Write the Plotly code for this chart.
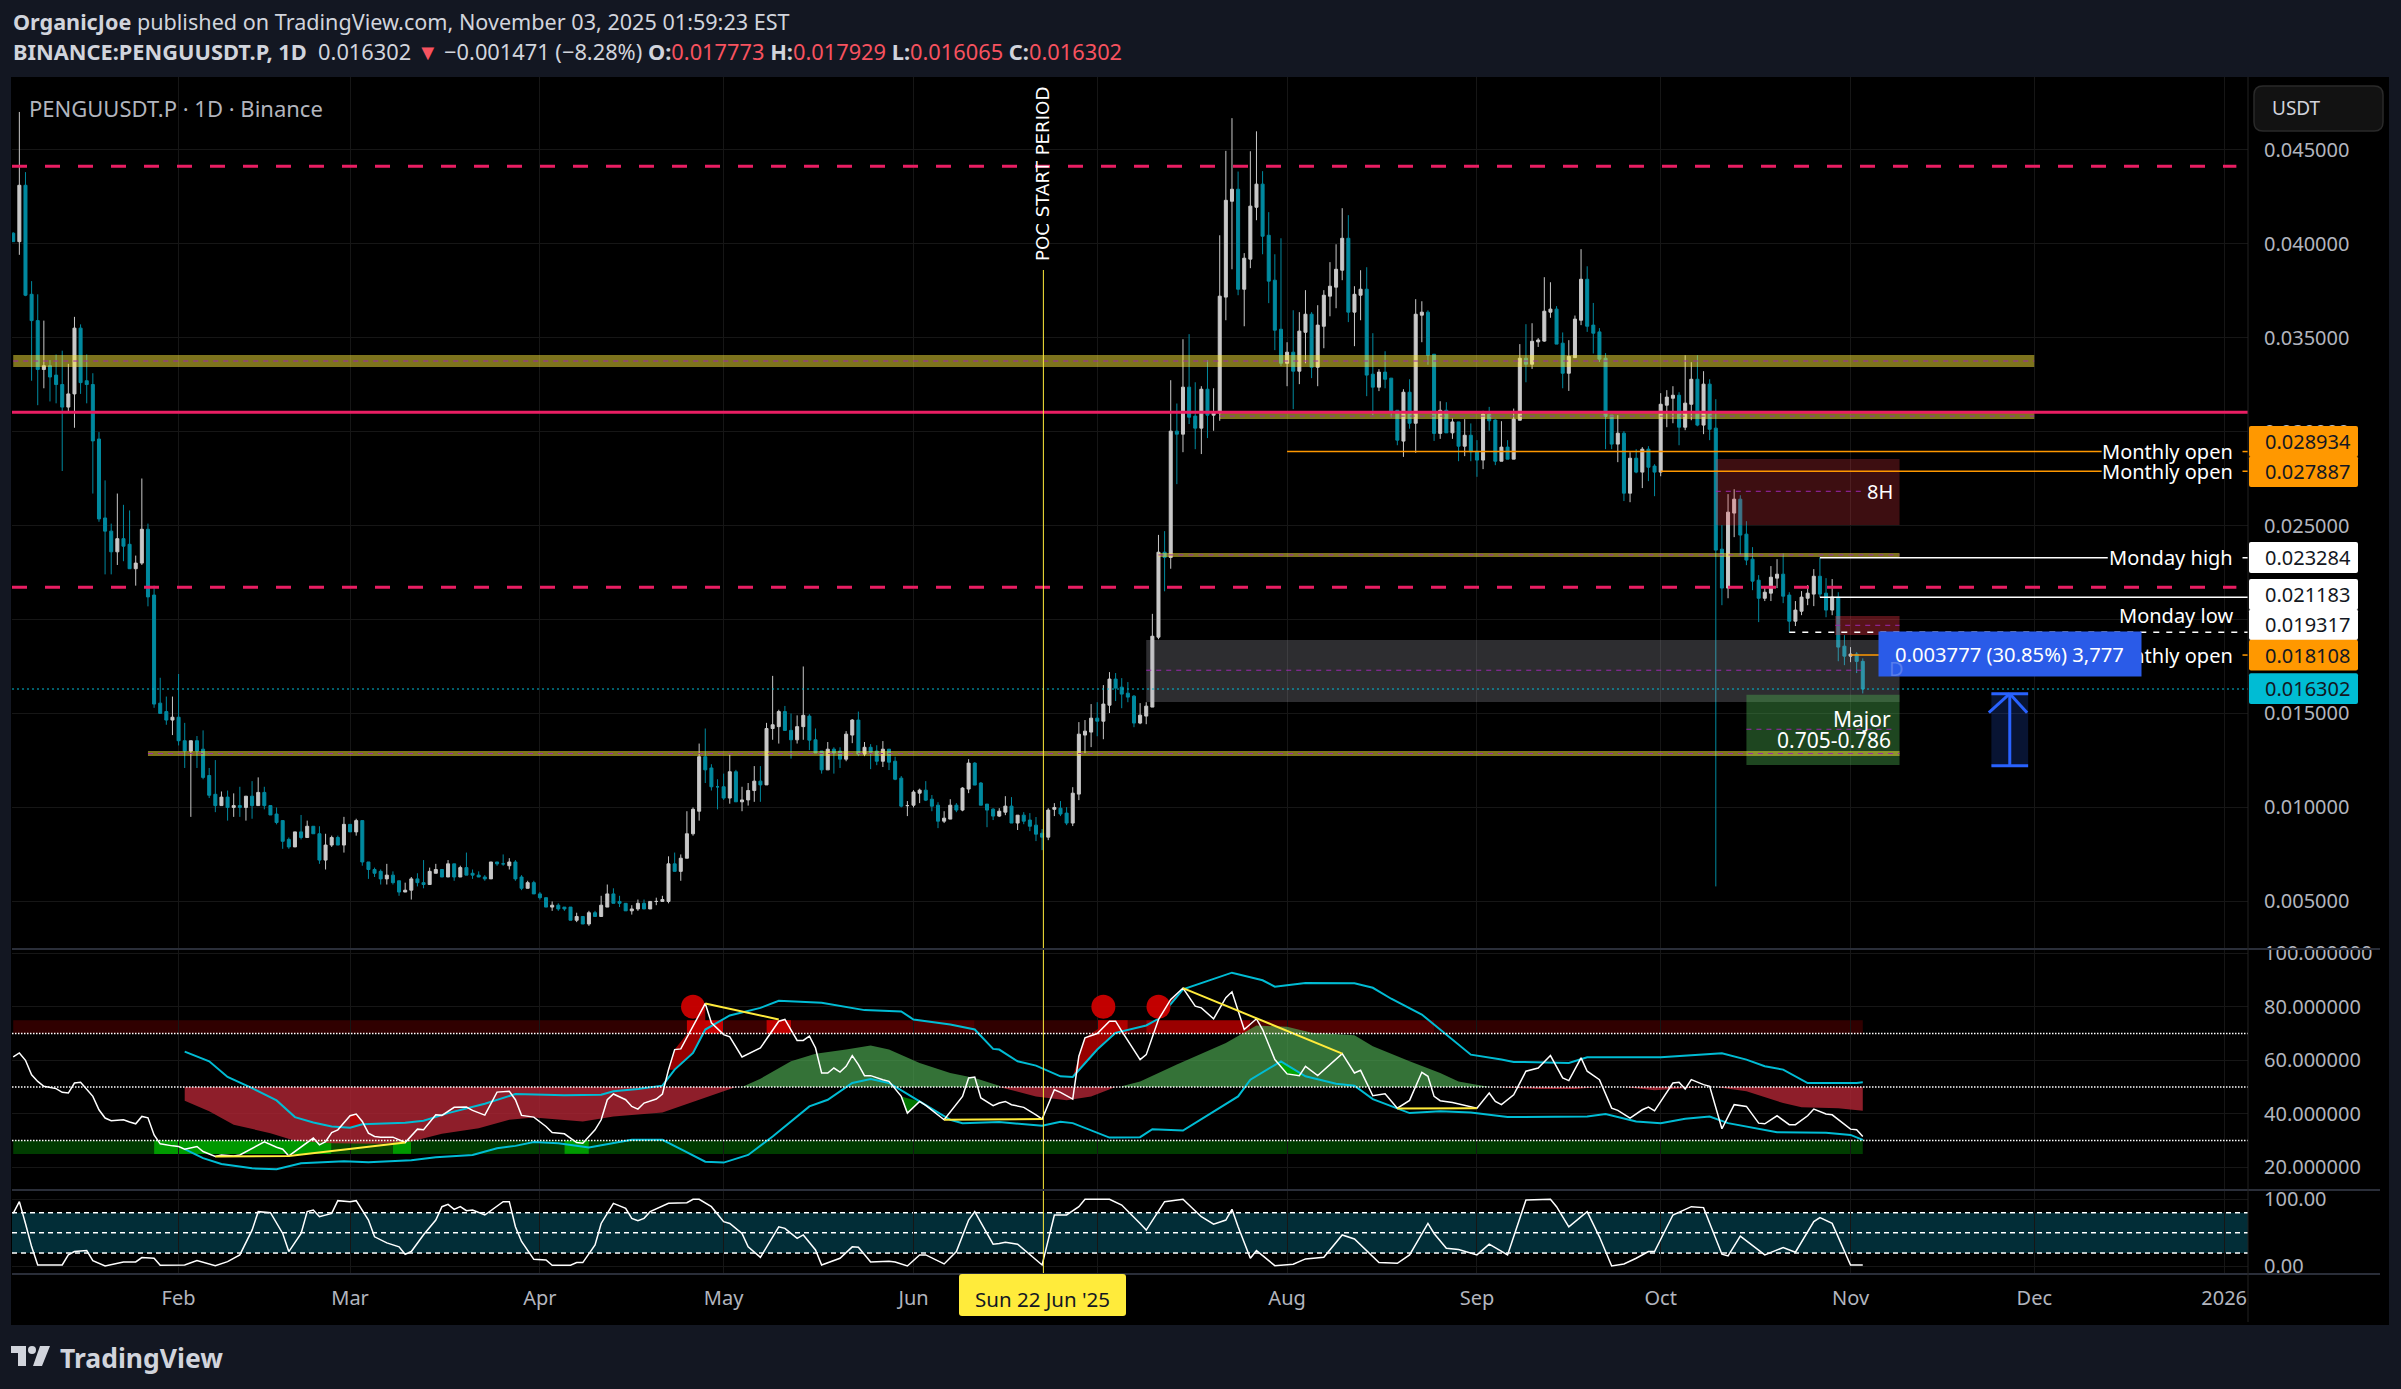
import pandas as pd
import plotly.graph_objects as go

W, H = 2401, 1389
FONT = "Noto Sans"

# daily candles, 5 Jan 2025 to 3 Nov 2025
opens = [
    .04055, .0401, .0431, .0373, .0359, .0333, .0335, .0330, .0325, .0313, .0320, .0355, .0327, .0325, .0296,
    .0254, .0247, .0236, .0243, .0240, .0227, .0230, .0248, .0213, .01555, .0151, .01465, .0148, .01355, .0130,
    .01355, .0131, .0117, .0107, .0101, .01055, .0100, .0101, .0100, .0106, .0101, .0108, .0101, .00965, .0093,
    .0083, .0079, .0087, .0084, .0090, .0086, .0072, .0080, .0084, .0080, .0091, .0087, .0093, .0071, .0067,
    .0066, .0062, .0064, .0061, .0055, .0056, .0062, .0060, .0059, .0065, .0067, .0063, .0070, .0063, .0068,
    .0065, .0064, .0063, .0062, .0071, .0070, .0069, .0071, .0063, .0057, .0060, .0054, .0052, .0047, .0048,
    .0047, .0047, .0040, .0042, .0038, .0044, .0042, .0047, .0054, .0050, .0049, .0045, .0046, .0049, .0046,
    .0050, .0050, .0050, .0070, .0066, .0073, .0086, .0098, .0127, .0121, .0111, .0111, .0105, .0119, .0103,
    .0104, .0109, .0114, .0112, .0142, .0143, .0151, .0141, .0136, .0143, .01486, .0136, .0130, .0120, .0131,
    .0130, .01257, .01385, .01465, .01284, .0132, .0130, .01246, .0131, .01246, .01156, .0101, .01012, .01076, .01092,
    .01044, .01012, .00927, .00938, .01012, .00986, .01098, .01236, .0113, .01018, .00991, .00954, .00975, .01007, .00917,
    .00959, .00933, .00906, .00863, .00842, .0099, .00996, .0097, .00917, .01071, .01385, .01401, .01475, .01459, .01544,
    .01683, .0164, .01608, .01592, .01449, .01486, .01534, .01906, .02358, .0233, .03002, .02986, .03236, .03082, .03018,
    .03225, .03087, .03098, .03715, .04225, .04289, .03757, .03917, .04193, .04316, .04044, .03805, .03544, .03363, .03422,
    .03321, .03528, .03624, .03342, .0356, .0372, .03768, .03858, .04028, .03635, .03725, .03757, .03305, .03236, .03316,
    .03284, .03113, .02949, .03209, .03044, .03619, .03635, .03411, .0299, .03113, .02993, .03051, .02922, .0298, .02895,
    .02848, .03092, .03061, .02842, .02917, .02853, .0306, .0339, .03358, .03477, .03481, .03635, .03651, .0347, .0331,
    .03393, .03592, .0381, .03566, .0353, .0339, .03087, .02933, .02991, .02672, .02858, .02784, .02906, .02816, .02784,
    .0314, .03177, .03193, .03023, .03145, .03278, .03034, .03252, .03018, .02374, .02167, .02566, .0264, .02454, .02321,
    .02209, .02113, .0214, .0222, .02241, .0213, .01991, .02044, .02113, .02135, .0223, .0214, .0205, .02119, .01858,
    .01805, .01816, .017773,
]
highs = [
    .0406, .0470, .0438, .0380, .0373, .0359, .0338, .0341, .0343, .0336, .0361, .0357, .0341, .0331, .02997,
    .0274, .0251, .0267, .0261, .0258, .0234, .0275, .0251, .0218, .0169, .0159, .0159, .0171, .0145, .01355,
    .0138, .0141, .0121, .01252, .01085, .0109, .01075, .0111, .0106, .0114, .0116, .0111, .0101, .0100, .0093,
    .0084, .0087, .0096, .0093, .0090, .0090, .0086, .0085, .0085, .0095, .0091, .0094, .0093, .0071, .0068,
    .0067, .0070, .0066, .0061, .0060, .0063, .0065, .0072, .0068, .0070, .0067, .0072, .0070, .0069, .0076,
    .0067, .0066, .0064, .0071, .0071, .0075, .0073, .0072, .0064, .0061, .0061, .0055, .0052, .0050, .0049,
    .0047, .0047, .0044, .0042, .0045, .0045, .0053, .0059, .0057, .0053, .0049, .0048, .0051, .0051, .0050,
    .0052, .0053, .0074, .0076, .0075, .0098, .0100, .0134, .0142, .0123, .0115, .0118, .0128, .0120, .0111,
    .0113, .0122, .0122, .0145, .0170, .0152, .0154, .0150, .0149, .0175, .01496, .0142, .0130, .01348, .0132,
    .0132, .01406, .0147, .0151, .01348, .01337, .01331, .01353, .0131, .0127, .01167, .01034, .01092, .0110, .0114,
    .01066, .01028, .0098, .01044, .01023, .01108, .01257, .01241, .01135, .01018, .00996, .00996, .0106, .01055, .00959,
    .00975, .0097, .00949, .00885, .00996, .01023, .01034, .01002, .01108, .01454, .01465, .0155, .0156, .01651, .0172,
    .01715, .01688, .01667, .01598, .01555, .0156, .0203, .0245, .0247, .03273, .03149, .03491, .03518, .03262, .03241,
    .0338, .0323, .04044, .04493, .04667, .04383, .03949, .04491, .04597, .04385, .04167, .03943, .04028, .03475, .03645,
    .03635, .03752, .03635, .03672, .03752, .03901, .03996, .04188, .04151, .03773, .03858, .03874, .03523, .03332, .03427,
    .03284, .03113, .03225, .03278, .03704, .03693, .03645, .03411, .03161, .03156, .03069, .03051, .03066, .03043, .02954,
    .0311, .03131, .03066, .03055, .02954, .03122, .03465, .03571, .03576, .03497, .03821, .03794, .03667, .03527, .03486,
    .03617, .0397, .03879, .03684, .0355, .03417, .03087, .03087, .03002, .0289, .02906, .02917, .02922, .02826, .03204,
    .0322, .03241, .03209, .03406, .03369, .03406, .03321, .03278, .03172, .02502, .02667, .02693, .02661, .02523, .02385,
    .02236, .02172, .02284, .02321, .02351, .02145, .02098, .02151, .02183, .02268, .0233, .0222, .02215, .02145, .01917,
    .01853, .01826, .017929,
]
lows = [
    .0401, .0394, .0372, .0327, .0314, .0323, .0316, .0315, .0279, .0310, .0302, .0320, .0315, .0267, .0252,
    .0224, .0224, .0229, .0231, .0227, .0218, .0229, .0207, .0153, .0150, .0144, .01385, .0133, .0121, .0095,
    .0121, .0115, .0105, .00975, .0101, .0093, .0095, .0095, .0093, .0094, .0101, .0099, .0096, .0091, .0078,
    .0078, .0079, .0083, .0084, .0086, .0070, .0067, .0079, .0080, .0076, .0087, .0085, .0069, .0062, .0063,
    .0059, .0059, .0059, .0053, .0055, .0051, .0058, .0057, .0059, .0065, .0063, .0063, .0061, .0063, .0064,
    .0062, .0063, .0061, .0062, .0069, .0069, .0067, .0061, .0056, .0057, .0054, .0051, .0047, .0045, .0045,
    .0045, .0040, .0039, .0038, .0037, .0042, .0042, .0047, .0049, .0047, .0045, .0043, .0045, .0046, .0046,
    .0048, .0050, .0049, .0066, .0061, .0073, .0085, .0093, .0113, .0109, .0099, .0104, .0102, .0103, .0098,
    .0101, .0103, .0103, .0112, .0136, .0134, .0141, .0126, .0134, .0136, .01305, .0129, .0118, .0120, .0118,
    .0121, .01246, .01342, .01273, .01273, .01204, .01225, .01215, .01199, .01145, .0100, .00954, .0100, .01023, .01034,
    .0098, .0089, .00917, .00938, .00975, .0098, .01076, .01119, .01012, .00895, .00933, .00949, .00959, .00917, .0088,
    .00911, .00874, .00821, .00773, .00826, .00954, .00954, .00906, .00901, .01039, .01289, .01321, .01379, .01363, .01502,
    .01566, .01528, .0156, .01427, .01443, .01443, .01534, .01895, .0215, .0227, .0272, .0289, .0304, .02906, .0288,
    .02965, .03004, .03057, .03592, .03863, .03725, .0356, .03869, .04124, .03943, .03683, .03433, .03348, .03241, .03119,
    .03252, .03363, .03284, .03241, .03443, .03613, .03656, .03805, .03582, .03454, .03592, .03188, .03087, .03215, .0323,
    .03075, .02927, .02865, .03015, .02887, .03475, .03355, .0295, .02961, .02993, .02961, .02842, .02869, .02842, .02759,
    .028, .03004, .02821, .02842, .02853, .02853, .0306, .03262, .03333, .0345, .03477, .03605, .03465, .0323, .03216,
    .03393, .03566, .0353, .03415, .0337, .02906, .02906, .02837, .0263, .02624, .02778, .02699, .02736, .02656, .02762,
    .03023, .03044, .02927, .03007, .0306, .03028, .02986, .02954, .0058, .02076, .02113, .02438, .02342, .02289, .02156,
    .01986, .02098, .02098, .02167, .02087, .01931, .01965, .02023, .02076, .02071, .02119, .02012, .02023, .01778, .01757,
    .01773, .01715, .016065,
]
closes = [
    .0401, .0431, .03725, .0359, .0333, .0335, .0329, .0325, .0313, .0320, .0355, .0326, .0325, .0295, .02535,
    .0247, .0236, .0243, .0239, .0227, .0230, .0248, .0212, .0155, .0150, .01465, .0148, .01355, .0130, .01355,
    .0130, .0116, .01065, .0101, .01055, .0100, .0101, .0100, .0106, .0101, .0108, .0101, .0096, .0092, .0082,
    .0079, .0087, .0084, .0090, .0086, .0072, .0080, .0084, .0080, .0091, .0087, .0093, .0071, .0067, .0065,
    .0062, .0064, .0060, .0055, .0056, .0062, .0060, .0059, .0066, .0067, .0063, .0070, .0063, .0068, .0064,
    .0064, .0063, .0062, .0071, .0070, .0070, .0071, .0062, .0057, .0060, .0054, .0052, .0047, .0048, .0046,
    .0046, .0040, .0042, .0038, .0044, .0042, .0048, .0054, .0049, .0049, .0045, .0046, .0049, .0046, .0050,
    .0050, .0051, .0070, .0066, .0073, .0086, .0099, .0127, .0120, .0111, .0111, .0105, .0119, .0103, .0104,
    .0109, .0114, .0112, .0142, .0144, .0151, .0141, .0136, .0143, .0149, .01358, .0129, .0120, .0131, .0129,
    .01257, .0139, .01465, .01284, .0132, .01294, .01246, .0131, .01241, .0115, .01007, .0101, .01082, .01092, .01039,
    .01007, .00927, .00943, .01012, .00986, .01103, .01236, .01119, .01012, .00986, .00954, .0098, .01007, .00917, .00959,
    .00927, .009, .00858, .00842, .00986, .01, .00965, .00917, .01076, .0139, .01406, .01475, .01459, .0155, .01683,
    .01635, .01603, .01587, .01449, .01491, .01539, .01911, .02358, .0233, .03002, .02986, .03236, .03076, .03018, .03225,
    .03087, .03103, .0372, .0423, .04289, .03757, .03922, .04199, .04316, .04039, .038, .03539, .03363, .03422, .03321,
    .03534, .03624, .03342, .03566, .03725, .03773, .03863, .04028, .03635, .0373, .03757, .033, .03236, .03316, .03278,
    .03108, .02954, .03209, .03044, .03624, .03635, .03406, .0299, .03113, .02993, .03051, .02922, .0298, .02892, .02848,
    .03092, .03057, .02842, .02917, .02853, .03066, .0339, .03358, .0348, .03487, .0364, .03651, .03465, .0331, .034,
    .03598, .0381, .0356, .03523, .03385, .0308, .02933, .02991, .02672, .02858, .02784, .02906, .0281, .02784, .03145,
    .03183, .03193, .03023, .03151, .03278, .03034, .03252, .03012, .02369, .02167, .02571, .0264, .02449, .02316, .02204,
    .02113, .02145, .02225, .02241, .02124, .01991, .0205, .02119, .0214, .0223, .02135, .0205, .02119, .01853, .01805,
    .01816, .01777, .016302,
]

price_ticks = [.005, .01, .015, .02, .025, .03, .035, .04, .045]
price_tick_labels = ["0.005000", "0.010000", "0.015000", "", "0.025000", "0.030000", "0.035000", "0.040000", "0.045000"]
month_ticks = ["2025-02-01", "2025-03-01", "2025-04-01", "2025-05-01", "2025-06-01", "2025-07-01",
               "2025-08-01", "2025-09-01", "2025-10-01", "2025-11-01", "2025-12-01", "2026-01-01"]
month_labels = ["Feb", "Mar", "Apr", "May", "Jun", "", "Aug", "Sep", "Oct", "Nov", "Dec", "2026"]

# RSI pane, x values are days counted from 1 Feb 2025
rsi_days = [-27, -26, -25, -24, -23, -22, -20, -19, -18, -17, -16, -15, -14, -13, -12, -11, -9, -8, -7, -6, -5, -4, -3, -1, 0, 1, 3, 4, 6, 7, 9, 10, 12, 14, 16, 17, 18, 20, 22, 23, 24, 25, 26, 28, 29, 30, 31, 32, 33, 35, 36, 37, 39, 40, 42, 43, 45, 47, 48, 50, 52, 54, 55, 56, 58, 60, 61, 63, 65, 66, 68, 69, 70, 71, 73, 74, 75, 76, 78, 79, 80, 81, 82, 84, 86, 87, 89, 90, 91, 92, 95, 97, 98, 99, 101, 102, 103, 104, 105, 106, 107, 108, 109, 110, 111, 112, 113, 115, 116, 118, 119, 121, 122, 125, 128, 129, 130, 131, 133,
            134, 135, 136, 138, 140, 141, 143, 144, 146, 147, 148, 150, 152, 153, 154, 156, 157, 158, 160, 162, 164, 166, 167, 169, 171, 172, 174, 176, 177, 179, 181, 183, 184, 186, 188, 190, 192, 193, 195, 197, 199, 201, 203, 204, 205, 206, 208, 211, 212, 214, 215, 216, 218, 220, 222, 224, 226, 227, 229, 230, 232, 234, 235, 237, 239, 240, 241, 244, 245, 246, 247, 249, 250, 252, 254, 256, 258, 259, 261, 263, 264, 266, 267, 269, 270, 273, 274, 275]
rsi_vals = [61.25, 62.75, 60, 54.6, 52.1, 50.25, 49.4, 48, 47.75, 51.5, 51.75, 49, 46.5, 41.5, 38.4, 37.4, 37.75, 36.9, 36.25, 39, 38.5, 32.1, 28.75, 28, 27.75, 26.75, 27.75, 25.9, 24, 24.6, 24.25, 24.6, 27.1, 29.5, 27.5, 26.75, 24.25, 27.5, 30.9, 28.4, 29.6, 33, 34, 39.25, 39.9, 37.1, 32.75, 31.5, 31.25, 31.25, 30.25, 29.25, 34.25, 34, 39.6, 39.4, 42.4, 42.5, 41.25, 39.5, 48.1, 48.4, 45.25, 39.4, 38.75, 35.25, 33, 32.5, 29.25, 29, 34, 37.75, 45.25, 47.4, 45.25, 42.75, 41.75, 44, 45.5, 47.4, 56.5, 64, 64.25, 72.75, 81.25, 74, 69.6, 68.75, 65.25, 61.25, 64.6, 71.5, 74.6, 75.25, 67.4, 67.4, 69, 64.6, 55.25, 55.25, 57.1, 55.6, 57.75, 61.75, 58.4, 54.25, 54.25, 52.75, 52.1, 46.5, 40.25, 44.6, 43.1, 37.75, 46.5, 53.4, 53.75, 45.9, 43,
            44, 44.6, 43.4, 42.4, 39.6, 38, 49, 48, 45.5, 61.5, 68.4, 70, 74.6, 74.6, 70.9, 64, 60.25, 62.1, 75.25, 82.75, 87, 80.25, 79.6, 75.5, 83.4, 85.6, 71.5, 75.5, 71.5, 60.25, 54.9, 54.25, 57.75, 54.25, 58.4, 62.5, 55.25, 56.25, 46.75, 47.5, 42.1, 45, 55.5, 54, 46.5, 44.9, 44.25, 42.75, 42.1, 47.75, 44.6, 43.4, 47.1, 55.9, 57.1, 61.75, 53.4, 52.4, 60.9, 55.9, 52.75, 42.1, 41.25, 38.4, 41.5, 42.5, 41.1, 51.5, 51.75, 49.25, 52.75, 50.9, 50.25, 34.4, 43.4, 42.75, 36.5, 36.25, 39.25, 35.9, 35.9, 39.25, 41.75, 39.9, 39.6, 34.25, 34, 31.5]

upper_days = [1, 5, 8, 12, 16, 19, 22, 25, 28, 30, 37, 40, 44, 50, 55, 63, 69, 71, 75, 79, 81, 84, 86, 90, 95, 98, 105, 112, 118, 120, 126, 130, 133,
              134, 137, 140, 144, 146, 150, 153, 158, 160, 164, 168, 172, 177, 179, 184, 192, 195, 198, 203, 207, 211, 216, 218, 227, 230, 242, 252, 256, 259, 262, 266, 274, 275]
upper_vals = [63.25, 59.6, 53.75, 49.6, 45, 38.75, 36.75, 35.25, 34.75, 36.1, 36.6, 37.4, 40.25, 43.75, 47.4, 46.9, 47.1, 48.4, 49.25, 50.5, 56.5, 62.75, 71.5, 76.75, 79.6, 82.25, 81.5, 78.75, 78.25, 75.25, 73.4, 71.5, 64.25,
              64, 59.6, 58, 54, 53.75, 64, 70.25, 73, 75.5, 86.5, 89.6, 92.75, 89.9, 87.5, 88.9, 88.75, 87.1, 83, 77.1, 69.6, 62.1, 60.25, 59.4, 59, 61.1, 61.1, 62.6, 60.25, 57.75, 56.5, 51.5, 51.5, 51.75]
lower_days = [1, 4, 7, 12, 16, 20, 27, 31, 38, 42, 48, 52, 55, 58, 62, 67, 74, 79, 82, 86, 89, 93, 97, 103, 106, 110, 113, 116, 121, 126, 128, 134,
              141, 144, 146, 152, 157, 159, 164, 170, 173, 175, 180, 184, 189, 192, 195, 201, 206, 211, 217, 230, 233, 238, 242, 246, 250, 253, 261, 269, 273, 275]
lower_vals = [26.75, 23.4, 21.25, 19.6, 19.25, 21.5, 22.25, 21.9, 22.6, 23.75, 24.6, 27.1, 28, 29.4, 29, 27.4, 30.25, 30.25, 26.75, 22.1, 21.75, 24.6, 31.5, 42.75, 45.25, 51.5, 53, 51.5, 44.6, 37.75, 36.5, 36.9,
              35.5, 37, 36.5, 31.1, 31.25, 34.25, 33.75, 42.1, 46.5, 52.75, 59.6, 54, 51.25, 50.5, 45.5, 40.25, 40.9, 40.5, 38.75, 39, 39.9, 37.1, 36.5, 38.1, 39, 36.5, 33.1, 32.9, 32.1, 30.25]

# oscillator lobes around the 50 line
red_lobes = [
    ([1, 5, 9, 15, 19, 25, 33, 38, 43, 49, 54, 58, 66, 71, 79, 86, 91],
     [44.9, 40.9, 35.9, 32.75, 29.9, 29, 28.75, 29.6, 32.5, 34.6, 37.75, 38.6, 37.1, 39, 40.5, 45.9, 50]),
    ([134, 140, 145, 149, 153], [50, 46.5, 45.1, 46.5, 50]),
    ([215, 222, 228, 232], [50, 49.25, 49.25, 50]),
    ([236, 241, 249], [50, 48.75, 50]),
    ([251, 256, 262, 265, 271, 275], [50, 48.4, 44, 42.4, 42.1, 41.1]),
]
green_lobes = [
    ([92, 95, 100, 104, 109, 113, 116, 121, 126, 130, 134], [50, 53.1, 59.6, 62.4, 64, 65.5, 64, 59, 55.25, 53.4, 50.5]),
    ([154, 157, 163, 171, 176, 181, 185, 192, 195, 201, 206, 209, 214], [50.25, 52.1, 58.4, 66.5, 73, 72.5, 70.25, 69.4, 65.25, 59.6, 55.25, 52.1, 50]),
]
# small wedges where the RSI leaves its bands
wedges = [
    ([80, 81, 84, 86, 86, 84, 81], [56.5, 64, 72.75, 81.25, 71.5, 62.75, 56.5], "rgba(190,0,0,0.8)"),
    ([146, 148, 152, 154, 153, 150], [53.75, 68.4, 74.6, 70.9, 70.25, 64], "rgba(190,0,0,0.8)"),
    ([160, 162, 164, 164], [75.5, 82.75, 87, 86.5], "rgba(190,0,0,0.8)"),
    ([28, 29, 30, 28], [39.25, 39.9, 36.1, 34.75], "rgba(190,0,0,0.8)"),
    ([118, 119, 121], [46.5, 40.25, 44.6], "rgba(0,130,0,0.9)"),
    ([179, 181, 183, 184], [60.25, 54.9, 54.25, 54], "rgba(0,170,0,0.9)"),
]

div_days = [6, 18, 37, None, 86, 98, None, 125, 141, None, 164, 190, None, 199, 212]
div_vals = [24, 24.25, 29.25, None, 81.25, 75.25, None, 37.75, 38, None, 87, 62.5, None, 42, 42.1]

signal_days = [84, 151, 160]
signal_vals = [80, 80, 80]

stoch_days = [-27, -26, -25, -24, -23, -19, -18, -17, -15, -14, -12, -9, -7, -6, -4, -3, 1, 3, 6, 8, 10, 12, 13, 15, 17, 18, 20, 21, 22, 23, 25, 26, 28, 29, 31, 32, 34, 36, 37, 38, 40, 42, 43, 44, 45, 46, 47, 48, 50, 53, 54, 55, 56, 58, 60, 61, 64, 65, 66, 68, 69, 71, 73, 74, 75, 76, 77, 80, 83, 84, 85, 87, 89, 90, 92, 93, 95, 98, 99, 101, 102, 104, 105, 108, 110, 111, 113, 116, 117, 119, 121, 122, 125, 127, 129, 130, 132, 133,
              134, 135, 137, 139, 141, 143, 145, 147, 148, 152, 154, 157, 158, 161, 164, 167, 169, 171, 172, 173, 175, 176, 179, 182, 184, 187, 190, 192, 196, 199, 201, 204, 205, 207, 209, 212, 214, 217, 220, 224, 225, 227, 230, 232, 234, 236, 238, 240, 241, 244, 247, 249, 252, 253, 255, 259, 262, 264, 267, 268, 270, 273, 275]
stoch_vals = [79, 96.5, 64, 29.4, 2, 2, 17, 22, 23.4, 8.5, 0.5, 6.5, 6.5, 13, 12, 1.5, 2, 8.5, 1, 7, 17, 54, 81.6, 80, 49, 22, 49, 81.6, 84, 74, 79, 98, 96.5, 98, 69, 44, 35, 29, 18, 22, 47, 69, 89, 92.5, 85, 89, 83, 84, 76.6, 96.5, 96.5, 59, 37, 10.4, 9.5, 1.5, 1.5, 5.5, 5.5, 32, 64, 94, 86.6, 71.6, 68, 71.6, 81.6, 94, 95, 100, 100, 89, 66.7, 64, 49, 29, 13.4, 59, 56.7, 41.8, 46.8, 24.4, 2, 12, 29, 28.4, 6.5, 7.5, 6.5, 0.5, 17, 17, 3.5, 22, 69, 81.6, 49, 33,
              34, 36, 33, 17, 2, 76.6, 76.6, 89, 100, 100, 91.5, 64, 54, 96.5, 100, 74, 63, 69, 85, 59, 12, 23.4, 1, 3, 11, 13.4, 46.8, 40.8, 5.5, 4.5, 17, 64, 49, 27, 25, 17, 33, 17, 99, 100, 89, 59, 81.6, 44, 0.5, 3.5, 12, 22, 22, 76.6, 89, 87.6, 18, 15.4, 45, 17, 28, 21, 66.7, 72.6, 64, 2, 2]

# drawn levels on the price pane
olive_bands = [
    ("2025-01-05", "2025-12-01", .03343, .03407),
    ("2025-01-27", "2025-11-09", .01274, .01300),
    ("2025-07-21", "2025-12-01", .03066, .03098),
    ("2025-07-11", "2025-11-09", .02333, .02354),
]
zones = [
    ("2025-10-10", "2025-11-09", .02502, .02854, "rgba(242,54,69,0.25)"),
    ("2025-10-29 12:00", "2025-11-09", .01918, .02019, "rgba(242,54,69,0.36)"),
    ("2025-07-09", "2025-11-09", .01561, .01891, "rgba(178,181,190,0.25)"),
    ("2025-10-15", "2025-11-09", .01226, .01599, "rgba(76,175,80,0.40)"),
]
zone_mids = [
    ("2025-10-10", "2025-11-03", .02682),
    ("2025-10-29 12:00", "2025-11-09", .01969),
    ("2025-07-09", "2025-11-03", .01730),
    ("2025-10-15", "2025-11-08", .01416),
]
price_lines = [
    ("2025-08-01", "2025-12-12", .028934, "#FF9800", "solid"),
    ("2025-10-01", "2025-12-12", .027887, "#FF9800", "solid"),
    ("2025-11-01", "2025-12-10", .018108, "#FF9800", "solid"),
    ("2025-10-27", "2025-12-13", .023284, "#FFFFFF", "solid"),
    ("2025-10-27", "2026-01-05", .021183, "#FFFFFF", "solid"),
    ("2025-10-22", "2026-01-05", .019317, "#FFFFFF", "6px,7px"),
]
label_stubs = [.028934, .027887, .023284, .018108]
label_stub_colors = ["#FF9800", "#FF9800", "#FFFFFF", "#FF9800"]
pink_dashed = [.04411, .02171]
pink_solid = .03102
last_price = .016302

red_band = [
    ("2025-01-05", "2025-04-25", "#300000"), ("2025-04-25", "2025-05-01", "#C80000"),
    ("2025-05-01", "2025-05-08", "#3C0000"), ("2025-05-08", "2025-05-12", "#C00000"),
    ("2025-05-12", "2025-06-11", "#4D0000"), ("2025-06-11", "2025-07-01", "#300000"),
    ("2025-07-01", "2025-07-06", "#B00000"), ("2025-07-06", "2025-07-09", "#5A0000"),
    ("2025-07-09", "2025-07-26", "#9A0000"), ("2025-07-26", "2025-08-25", "#4F0000"),
    ("2025-08-25", "2025-11-03", "#300000"),
]
green_band = [
    ("2025-01-05", "2025-01-28", "#003C00"), ("2025-01-28", "2025-02-26", "#009900"),
    ("2025-02-26", "2025-03-08", "#0A4A00"), ("2025-03-08", "2025-03-11", "#009900"),
    ("2025-03-11", "2025-04-05", "#003C00"), ("2025-04-05", "2025-04-09", "#009900"),
    ("2025-04-09", "2025-11-03", "#003C00"),
]
rsi_levels = [70, 50, 30]
stoch_levels = [80, 50, 20]

# axis price tags: value text, fill, centre row
axis_tags = [
    ("0.028934", "#FF9800", 441.5), ("0.027887", "#FF9800", 471.7), ("0.023284", "#FFFFFF", 557.5),
    ("0.021183", "#FFFFFF", 594.5), ("0.019317", "#FFFFFF", 624.7), ("0.018108", "#FF9800", 655.2),
    ("0.016302", "#00BCD4", 688.7),
]
axis_notes = [("Monthly open", 451.3), ("Monthly open", 471.7), ("Monday high", 557.3), ("Monday low", 615), ("Monthly open", 655.2)]


def days(vals):
    base = pd.Timestamp("2025-02-01")
    return [None if v is None else (base + pd.Timedelta(days=v)).strftime("%Y-%m-%d") for v in vals]


def px(x):
    return x / W


def py(y):
    return 1 - y / H


def rounded(x0, y0, x1, y1, r, fill, line="rgba(0,0,0,0)", layer="above"):
    p = (f"M {px(x0 + r)} {py(y0)} L {px(x1 - r)} {py(y0)} Q {px(x1)} {py(y0)} {px(x1)} {py(y0 + r)} "
         f"L {px(x1)} {py(y1 - r)} Q {px(x1)} {py(y1)} {px(x1 - r)} {py(y1)} "
         f"L {px(x0 + r)} {py(y1)} Q {px(x0)} {py(y1)} {px(x0)} {py(y1 - r)} "
         f"L {px(x0)} {py(y0 + r)} Q {px(x0)} {py(y0)} {px(x0 + r)} {py(y0)} Z")
    return dict(type="path", xref="paper", yref="paper", path=p, fillcolor=fill,
                line=dict(color=line, width=1.5), layer=layer)


def txt(x, y, text, size=20, color="#FFFFFF", anchor="left", family=FONT, angle=0):
    return dict(x=px(x), y=py(y), xref="paper", yref="paper", text=text, showarrow=False, xanchor=anchor,
                yanchor="middle", align=anchor if anchor != "center" else "center", textangle=angle,
                font=dict(family=family, size=size, color=color))


dates = pd.date_range(end="2025-11-03", periods=len(opens)).strftime("%Y-%m-%d").tolist()
x_left = (pd.Timestamp("2025-02-01") + pd.Timedelta(days=-27.2)).strftime("%Y-%m-%d %H:%M")
x_right = (pd.Timestamp("2025-02-01") + pd.Timedelta(days=337.9)).strftime("%Y-%m-%d %H:%M")

fig = go.Figure()

fig.add_trace(go.Candlestick(
    x=dates, open=opens, high=highs, low=lows, close=closes, xaxis="x", yaxis="y", hoverinfo="skip",
    increasing=dict(line=dict(color="#C8C8C8", width=1), fillcolor="#C8C8C8"),
    decreasing=dict(line=dict(color="#00899F", width=1), fillcolor="#00899F"),
    showlegend=False))

# RSI pane
for d, v in red_lobes:
    xs = days(d)
    fig.add_trace(go.Scatter(x=xs + xs[::-1], y=v + [50] * len(v), xaxis="x", yaxis="y2", mode="lines", fill="toself",
                             fillcolor="rgba(178,38,52,0.8)", line=dict(width=0), hoverinfo="skip", showlegend=False))
for d, v in green_lobes:
    xs = days(d)
    fig.add_trace(go.Scatter(x=xs + xs[::-1], y=v + [50] * len(v), xaxis="x", yaxis="y2", mode="lines", fill="toself",
                             fillcolor="rgba(80,175,85,0.65)", line=dict(width=0), hoverinfo="skip", showlegend=False))
for d, v, c in wedges:
    fig.add_trace(go.Scatter(x=days(d), y=v, xaxis="x", yaxis="y2", mode="lines", fill="toself",
                             fillcolor=c, line=dict(width=0), hoverinfo="skip", showlegend=False))
fig.add_trace(go.Scatter(x=days(upper_days), y=upper_vals, xaxis="x", yaxis="y2", mode="lines",
                         line=dict(color="#00BCD4", width=2), hoverinfo="skip", showlegend=False))
fig.add_trace(go.Scatter(x=days(lower_days), y=lower_vals, xaxis="x", yaxis="y2", mode="lines",
                         line=dict(color="#00BCD4", width=2), hoverinfo="skip", showlegend=False))
fig.add_trace(go.Scatter(x=days(signal_days), y=signal_vals, xaxis="x", yaxis="y2", mode="markers",
                         marker=dict(color="#CC0000", size=24, opacity=0.95), hoverinfo="skip", showlegend=False))
fig.add_trace(go.Scatter(x=days(rsi_days), y=rsi_vals, xaxis="x", yaxis="y2", mode="lines",
                         line=dict(color="#FFFFFF", width=1.5), hoverinfo="skip", showlegend=False))
fig.add_trace(go.Scatter(x=days(div_days), y=div_vals, xaxis="x", yaxis="y2", mode="lines", connectgaps=False,
                         line=dict(color="#FFEB3B", width=2), hoverinfo="skip", showlegend=False))

# stoch pane
fig.add_trace(go.Scatter(x=days(stoch_days), y=stoch_vals, xaxis="x", yaxis="y3", mode="lines",
                         line=dict(color="#FFFFFF", width=1.5), hoverinfo="skip", showlegend=False))

shapes = []
# chart background, the page around it is slate
shapes.append(dict(type="rect", xref="paper", yref="paper", x0=px(11), x1=px(2389), y0=py(77), y1=py(1325),
                   fillcolor="#000000", line=dict(width=0), layer="below"))

for x0, x1, lo, hi, col in zones:
    shapes.append(dict(type="rect", xref="x", yref="y", x0=x0, x1=x1, y0=lo, y1=hi, fillcolor=col,
                       line=dict(width=0), layer="above"))
for x0, x1, y in zone_mids:
    shapes.append(dict(type="line", xref="x", yref="y", x0=x0, x1=x1, y0=y, y1=y,
                       line=dict(color="#9C27B0", width=1, dash="5px,5px"), layer="above"))
for x0, x1, lo, hi in olive_bands:
    shapes.append(dict(type="rect", xref="x", yref="y", x0=x0, x1=x1, y0=lo, y1=hi,
                       fillcolor="rgba(255,235,59,0.49)", line=dict(width=0), layer="above"))
    shapes.append(dict(type="line", xref="x", yref="y", x0=x0, x1=x1, y0=(lo + hi) / 2, y1=(lo + hi) / 2,
                       line=dict(color="#9C27B0", width=1, dash="5px,5px"), layer="above"))
for x0, x1, y, col, dash in price_lines:
    shapes.append(dict(type="line", xref="x", yref="y", x0=x0, x1=x1, y0=y, y1=y,
                       line=dict(color=col, width=1.5, dash=dash), layer="above"))
for y, col in zip(label_stubs, label_stub_colors):
    shapes.append(dict(type="line", xref="x", yref="y", x0="2026-01-04", x1=x_right, y0=y, y1=y,
                       line=dict(color=col, width=1.5), layer="above"))
for y in pink_dashed:
    shapes.append(dict(type="line", xref="x", yref="y", x0=x_left, x1="2026-01-03", y0=y, y1=y,
                       line=dict(color="#E91E63", width=3, dash="15px,18px"), layer="above"))
shapes.append(dict(type="line", xref="x", yref="y", x0=x_left, x1=x_right, y0=pink_solid, y1=pink_solid,
                   line=dict(color="#E91E63", width=3), layer="above"))
shapes.append(dict(type="line", xref="x", yref="y", x0=x_left, x1=x_right, y0=last_price, y1=last_price,
                   line=dict(color="#00BCD4", width=1, dash="2px,3px"), layer="above"))

# long position style arrow
shapes.append(dict(type="rect", xref="x", yref="y", x0="2025-11-24", x1="2025-11-30", y0=.01222, y1=.01605,
                   fillcolor="rgba(41,98,255,0.2)", line=dict(width=0), layer="above"))
for x0, x1, y0, y1 in [("2025-11-27", "2025-11-27", .01222, .01605), ("2025-11-24", "2025-11-30", .01222, .01222),
                       ("2025-11-24", "2025-11-30", .01605, .01605), ("2025-11-27", "2025-11-23 14:00", .01605, .01504),
                       ("2025-11-27", "2025-11-29 20:00", .01605, .01504)]:
    shapes.append(dict(type="line", xref="x", yref="y", x0=x0, x1=x1, y0=y0, y1=y1,
                       line=dict(color="#2962FF", width=3), layer="above"))

# pane 2 and 3 furniture
for x0, x1, col in red_band:
    shapes.append(dict(type="rect", xref="x", yref="y2", x0=x0, x1=x1, y0=70, y1=75, fillcolor=col,
                       line=dict(width=0), layer="below"))
for x0, x1, col in green_band:
    shapes.append(dict(type="rect", xref="x", yref="y2", x0=x0, x1=x1, y0=25, y1=30, fillcolor=col,
                       line=dict(width=0), layer="below"))
for y in rsi_levels:
    shapes.append(dict(type="line", xref="x", yref="y2", x0=x_left, x1=x_right, y0=y, y1=y,
                       line=dict(color="#FFFFFF", width=1.5, dash="1.5px,1.5px"), layer="above"))
shapes.append(dict(type="rect", xref="x", yref="y3", x0=x_left, x1=x_right, y0=stoch_levels[2], y1=stoch_levels[0],
                   fillcolor="#022D37", line=dict(width=0), layer="below"))
for y in stoch_levels:
    shapes.append(dict(type="line", xref="x", yref="y3", x0=x_left, x1=x_right, y0=y, y1=y,
                       line=dict(color="#FFFFFF", width=1.5, dash="5px,4px"), layer="below"))

# vertical marker through all panes
shapes.append(dict(type="line", xref="x", yref="paper", x0="2025-06-22 05:00", x1="2025-06-22 05:00", y0=py(270), y1=py(1274),
                   line=dict(color="#FFEB3B", width=1), layer="above"))

# pane separators and axis border
for y in [949, 1190, 1274]:
    shapes.append(dict(type="line", xref="paper", yref="paper", x0=px(12), x1=px(2380), y0=py(y), y1=py(y),
                       line=dict(color="#2A2E39", width=2), layer="above"))
shapes.append(dict(type="line", xref="paper", yref="paper", x0=px(2248), x1=px(2248), y0=py(77), y1=py(1322),
                   line=dict(color="#222222", width=1), layer="above"))

# USDT button
shapes.append(rounded(2254, 86, 2383, 131, 9, "#121212", "#2A2A2A"))
# axis tags
for label, col, yc in axis_tags:
    shapes.append(rounded(2249, yc - 15.4, 2358, yc + 15.4, 2, col))
# time tag
shapes.append(rounded(959, 1274, 1126, 1316, 3, "#FFEB3B"))
# TV logo
shapes.append(dict(type="path", xref="paper", yref="paper", fillcolor="#D1D4DC", line=dict(width=0), layer="above",
                   path=f"M {px(11)} {py(1346)} L {px(26)} {py(1346)} L {px(26)} {py(1366)} L {px(18)} {py(1366)} "
                        f"L {px(18)} {py(1353)} L {px(11)} {py(1353)} Z"))
shapes.append(dict(type="path", xref="paper", yref="paper", fillcolor="#D1D4DC", line=dict(width=0), layer="above",
                   path=f"M {px(40)} {py(1346)} L {px(50)} {py(1346)} L {px(42)} {py(1366)} L {px(33)} {py(1366)} Z"))
shapes.append(dict(type="circle", xref="paper", yref="paper", x0=px(28), x1=px(36), y0=py(1346), y1=py(1354),
                   fillcolor="#D1D4DC", line=dict(width=0), layer="above"))

annotations = [
    txt(11, 22, "<b>OrganicJoe</b> published on TradingView.com, November 03, 2025 01:59:23 EST", 21.6, "#D1D4DC"),
    txt(11, 52, "<b>BINANCE:PENGUUSDT.P, 1D</b>  0.016302 <span style='color:#F7525F'>▼</span> −0.001471 (−8.28%) "
                "<b>O:</b><span style='color:#F7525F'>0.017773</span> <b>H:</b><span style='color:#F7525F'>0.017929</span> "
                "<b>L:</b><span style='color:#F7525F'>0.016065</span> <b>C:</b><span style='color:#F7525F'>0.016302</span>",
        21.8, "#D1D4DC"),
    txt(27, 108, "PENGUUSDT.P · 1D · Binance", 22, "#B2B5BE"),
    txt(2270, 108, "USDT", 19, "#D1D4DC"),
    txt(58, 1358, "<b>TradingView</b>", 26.5, "#D1D4DC"),
    txt(1043, 174, "POC START PERIOD", 18.2, "#FFFFFF", "center", "DejaVu Sans", -90),
    txt(1042, 1299, "Sun 22 Jun '25", 20.5, "#131722", "center"),
    txt(1880, 491, "8H", 20, "#FFFFFF", "center"),
    txt(1893, 719, "Major", 21, "#FFFFFF", "right"),
    txt(1893, 740, "0.705-0.786", 21, "#FFFFFF", "right"),
]
for label, yn in axis_notes:
    annotations.append(txt(2235, yn, label, 20, "#FFFFFF", "right"))
for label, col, yc in axis_tags:
    annotations.append(txt(2263, yc, label, 20, "#131722"))

# measure tooltip goes last so it hides the label behind it
box = txt(1878, 654, " ", 20, "#FFFFFF")
box.update(width=262, height=44, bgcolor="#2A5BE8", borderpad=0)
annotations.append(box)
annotations.append(txt(1887, 668, "D", 20, "rgba(255,255,255,0.22)"))
annotations.append(txt(1893, 654, "0.003777 (30.85%) 3,777", 20.2, "#FFFFFF"))

axis_font = dict(family=FONT, size=20, color="#B2B5BE")
fig.update_layout(
    width=W, height=H, margin=dict(l=0, r=0, t=0, b=0, autoexpand=False), autosize=False,
    paper_bgcolor="#131722", plot_bgcolor="#000000", showlegend=False,
    shapes=shapes, annotations=annotations, hovermode=False,
    xaxis=dict(domain=[px(12), px(2248)], type="date", range=[x_left, x_right], anchor="y3",
               tickvals=month_ticks, ticktext=month_labels, tickfont=axis_font, ticks="", ticklabelstandoff=10,
               showgrid=True, gridcolor="#161616", gridwidth=1, zeroline=False, showline=False,
               rangeslider=dict(visible=False)),
    yaxis=dict(domain=[py(949), py(77)], range=[.00247, .04886], side="right", anchor="x", tickvals=price_ticks,
               ticktext=price_tick_labels, tickfont=axis_font, ticks="", ticklabelstandoff=15, showgrid=True,
               gridcolor="#161616", zeroline=False, showline=False),
    yaxis2=dict(domain=[py(1190), py(949)], range=[11.5, 101.6], side="right", anchor="x", tickvals=[20, 40, 60, 80, 100],
                tickformat=".6f", tickfont=axis_font, ticks="", ticklabelstandoff=15, showgrid=True,
                gridcolor="#161616", zeroline=False, showline=False),
    yaxis3=dict(domain=[py(1274), py(1190)], range=[-11.5, 113.9], side="right", anchor="x", tickvals=[0, 100],
                tickformat=".2f", tickfont=axis_font, ticks="", ticklabelstandoff=15, showgrid=True,
                gridcolor="#161616", zeroline=False, showline=False),
)

# body margin would shift the whole figure
fig.write_html("out.html", config={"displayModeBar": False},
               post_script="document.body.style.margin='0';document.body.style.background='#131722';document.body.style.overflow='hidden';")
